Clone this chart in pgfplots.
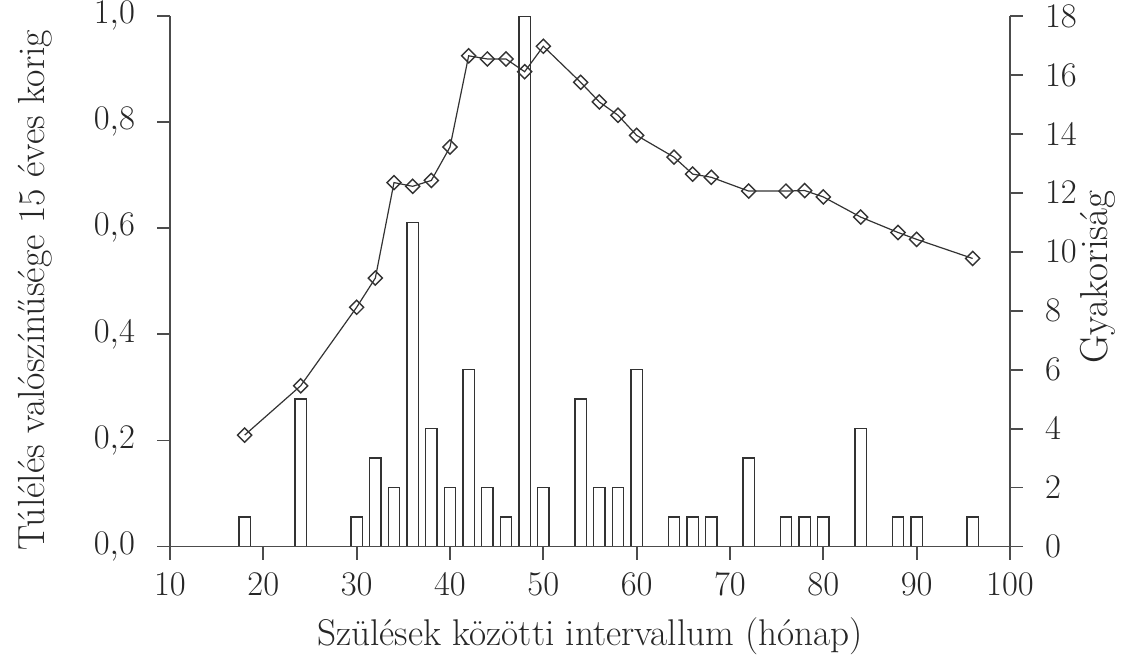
\documentclass[border=0pt]{standalone}
\usepackage{pgfplots}
\pgfplotsset{compat=1.18}
\begin{document}
\begin{tikzpicture}
\pgfplotsset{
  common/.style={
    scale only axis, width=420pt, height=265.25pt,
    xmin=10, xmax=100,
    tick align=outside,
    major tick length=6.5pt,
    axis line style={draw=black!70, line width=0.9pt},
    every tick/.style={black!70, line width=0.9pt},
    tick label style={font=\fontsize{16}{19}\selectfont, text=black!85},
  }
}
\begin{axis}[common,
  axis x line=none, axis y line*=right,
  ymin=0, ymax=18, ytick={0,2,...,18},
  yticklabel style={xshift=7.5pt},
  ylabel={Gyakoriság},
  ylabel style={at={(axis description cs:1.104,0.508)}, anchor=center, font=\fontsize{19.5}{23}\selectfont, text=black!85},
]
\addplot[ybar, bar width=1.2, draw=black!80, fill=white, line width=0.75pt] coordinates {
(18,1) (24,5) (30,1) (32,3) (34,2) (36,11) (38,4) (40,2) (42,6) (44,2) (46,1) (48,18) (50,2)
(54,5) (56,2) (58,2) (60,6) (64,1) (66,1) (68,1) (72,3) (76,1) (78,1) (80,1) (84,4) (88,1) (90,1) (96,1)
};
\end{axis}
\begin{axis}[common,
  axis x line*=bottom, axis y line*=left,
  ymin=0, ymax=1, ytick={0,0.2,...,1.0}, xtick={10,20,...,100},
  yticklabel style={xshift=-7.5pt, /pgf/number format/.cd, fixed, fixed zerofill, precision=1, use comma},
  xticklabel style={yshift=-3.5pt},
  xlabel={Szülések közötti intervallum (hónap)},
  ylabel={Túlélés valószínűsége 15 éves korig},
  xlabel style={at={(axis description cs:0.5,-0.169)}, anchor=center, font=\fontsize{18.6}{22}\selectfont, text=black!85},
  ylabel style={at={(axis description cs:-0.161,0.4835)}, anchor=center, font=\fontsize{18.9}{22}\selectfont, text=black!85},
]
\addplot[black!80, line width=0.6pt, mark=square, mark size=2.5pt,
  mark options={rotate=45, solid, line width=0.7pt, fill=none}] coordinates {
(18,0.210) (24,0.303) (30,0.451) (32,0.506) (34,0.686) (36,0.679) (38,0.690) (40,0.753)
(42,0.925) (44,0.919) (46,0.919) (48,0.895) (50,0.943) (54,0.875) (56,0.838) (58,0.813)
(60,0.775) (64,0.734) (66,0.702) (68,0.696) (72,0.670) (76,0.670) (78,0.671) (80,0.659)
(84,0.621) (88,0.592) (90,0.579) (96,0.543)
};
\coordinate (BL) at (axis description cs:-0.2024,-0.2196);
\coordinate (TR) at (axis description cs:1.1405,1.0302);
\end{axis}
\pgfresetboundingbox
\path (BL) rectangle (TR);
\end{tikzpicture}
\end{document}
